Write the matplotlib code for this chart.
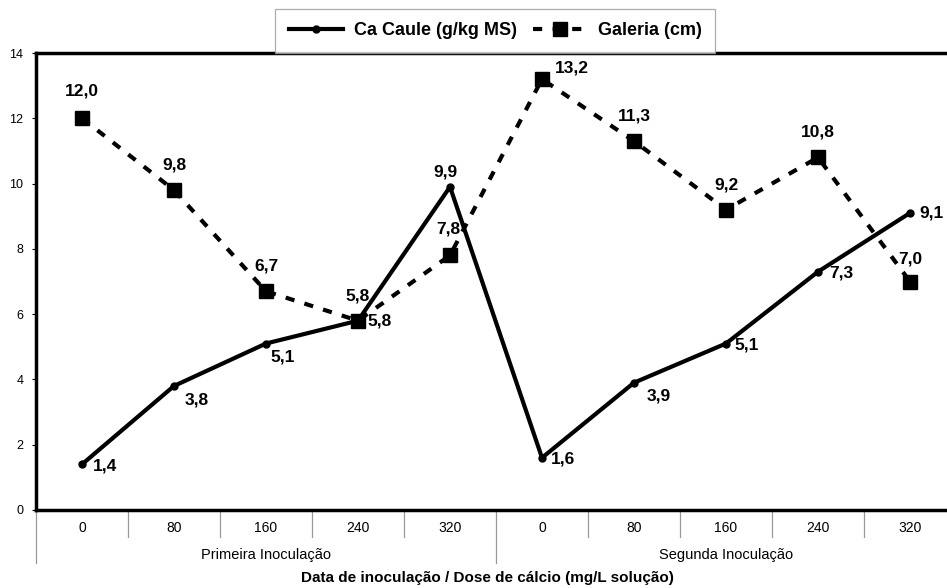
import matplotlib
matplotlib.use("Agg")
import matplotlib.pyplot as plt

plt.rcParams['font.family'] = ['Liberation Sans', 'DejaVu Sans']

doses = ['0', '80', '160', '240', '320', '0', '80', '160', '240', '320']
grupos = ['Primeira Inoculação', 'Segunda Inoculação']
ca_caule = [1.4, 3.8, 5.1, 5.8, 9.9, 1.6, 3.9, 5.1, 7.3, 9.1]
galeria = [12.0, 9.8, 6.7, 5.8, 7.8, 13.2, 11.3, 9.2, 10.8, 7.0]

# posição dos rótulos (pixels, relativo ao ponto)
off_ca = [(23, -2), (23, -14), (17, -13), (22, 0), (-5, 15),
          (21, -1), (25, -13), (21, -1), (23, -1), (21, 0)]
off_gal = [(0, 27), (0, 25), (0, 25), (0, 25), (-2, 26),
           (30, 11), (0, 25), (0, 25), (0, 25), (0, 23)]


def fmt(v):
    return f"{v:.1f}".replace('.', ',')


fig = plt.figure(figsize=(9.47, 5.88), dpi=100)
ax = fig.add_axes([36 / 947, 78 / 588, 920 / 947, 457 / 588])

x = list(range(len(doses)))
ax.plot(x, galeria, color='black', lw=3, ls=(0, (2.2, 2.5)), dash_capstyle='butt',
        marker='s', markersize=10, label='Galeria (cm)', clip_on=False, zorder=3)
ax.plot(x, ca_caule, color='black', lw=3, marker='o', markersize=5,
        label='Ca Caule (g/kg MS)', clip_on=False, zorder=4)

for i, v in enumerate(galeria):
    ax.annotate(fmt(v), (i, v), xytext=off_gal[i], textcoords='offset pixels',
                ha='center', va='center', fontsize=12.5, fontweight='bold')
for i, v in enumerate(ca_caule):
    ax.annotate(fmt(v), (i, v), xytext=off_ca[i], textcoords='offset pixels',
                ha='center', va='center', fontsize=12.5, fontweight='bold')

ax.set_xlim(-0.5, len(doses) - 0.5)
ax.set_ylim(0, 14)
ax.set_yticks(range(0, 15, 2))
ax.tick_params(axis='y', labelsize=9, length=3, width=0.8, pad=6)
ax.set_xticks([])

for s in ['left', 'top', 'bottom']:
    ax.spines[s].set_linewidth(2.5)
ax.spines['right'].set_visible(False)

# eixo x em dois níveis
tr = ax.get_xaxis_transform()
for i in range(len(doses) + 1):
    y_end = -0.116 if i % 5 == 0 else -0.059
    ax.plot([i - 0.5, i - 0.5], [0, y_end], color='#999999', lw=0.9,
            transform=tr, clip_on=False)
for i, d in enumerate(doses):
    ax.text(i, -0.039, d, transform=tr, ha='center', va='center', fontsize=10)
for g, nome in enumerate(grupos):
    ax.text(g * 5 + 2, -0.098, nome, transform=tr, ha='center', va='center', fontsize=10.5)

fig.text(487 / 947, 1 - 578 / 588, 'Data de inoculação / Dose de cálcio (mg/L solução)',
         ha='center', va='center', fontsize=11, fontweight='bold')

h, l = ax.get_legend_handles_labels()
leg = ax.legend(h[::-1], l[::-1], loc='lower center', bbox_to_anchor=(0.499, 1.0),
                ncol=2, borderaxespad=0, frameon=True, fancybox=False,
                borderpad=0.75, handlelength=3.0, handletextpad=0.6, columnspacing=0.9,
                prop={'size': 13, 'weight': 'bold'})
leg.get_frame().set_edgecolor('#999999')
leg.get_frame().set_linewidth(0.9)

fig.savefig('out.png', dpi=100)
